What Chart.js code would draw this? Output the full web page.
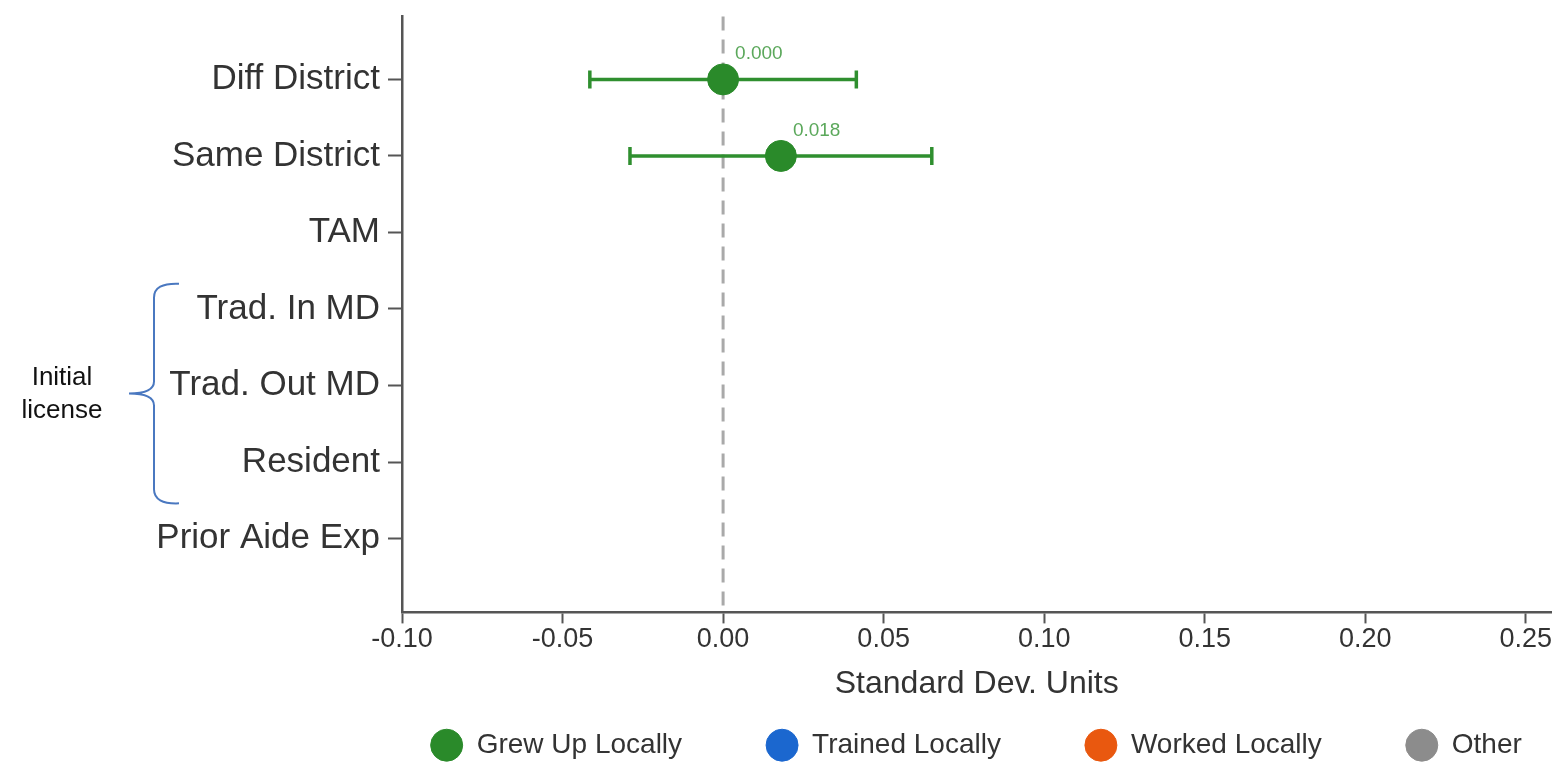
<!DOCTYPE html>
<html>
<head>
<meta charset="utf-8">
<script src="https://cdn.jsdelivr.net/npm/chart.js@4.4.1/dist/chart.umd.min.js"></script>
<style>
  html, body { margin: 0; padding: 0; background: #fff; }
  #wrap { width: 1568px; height: 768px; }
</style>
</head>
<body>
<div id="wrap"><canvas id="forest"></canvas></div>
<script>
// categories from top to bottom
const categories = ['Diff District', 'Same District', 'TAM', 'Trad. In MD', 'Trad. Out MD', 'Resident', 'Prior Aide Exp'];

// estimates and confidence bounds per series (null = not shown)
const grewUpEst  = [0.000, 0.018, null, null, null, null, null];
const grewUpLow  = [-0.0415, -0.029, null, null, null, null, null];
const grewUpHigh = [0.0415, 0.065, null, null, null, null, null];
const trainedEst = [null, null, null, null, null, null, null];
const workedEst  = [null, null, null, null, null, null, null];
const otherEst   = [null, null, null, null, null, null, null];

const xTicks = [-0.10, -0.05, 0.00, 0.05, 0.10, 0.15, 0.20, 0.25];

const FONT = "'Liberation Sans', Arial, sans-serif";
const AXIS = '#555555';
const TEXT = '#333333';

function toPoints(est) {
    const pts = [];
    est.forEach((v, i) => {
        if (v !== null) pts.push({ x: v, y: i + 1 });
    });
    return pts;
}

// dashed zero line + error bars under the points, value labels above
const errorBars = {
    id: 'errorBars',
    beforeDatasetsDraw(chart) {
        const { ctx, chartArea, scales } = chart;
        const x = scales.x, y = scales.y;
        ctx.save();
        ctx.strokeStyle = '#a9a9a9';
        ctx.lineWidth = 3;
        ctx.setLineDash([14, 9]);
        ctx.beginPath();
        ctx.moveTo(x.getPixelForValue(0), chartArea.top);
        ctx.lineTo(x.getPixelForValue(0), chartArea.bottom);
        ctx.stroke();
        ctx.setLineDash([]);

        ctx.strokeStyle = '#2f8f2f';
        ctx.lineWidth = 3.5;
        grewUpEst.forEach((v, i) => {
            if (v === null) return;
            const py = y.getPixelForValue(i + 1);
            const x0 = x.getPixelForValue(grewUpLow[i]);
            const x1 = x.getPixelForValue(grewUpHigh[i]);
            ctx.beginPath();
            ctx.moveTo(x0, py); ctx.lineTo(x1, py);
            ctx.moveTo(x0, py - 9); ctx.lineTo(x0, py + 9);
            ctx.moveTo(x1, py - 9); ctx.lineTo(x1, py + 9);
            ctx.stroke();
        });
        ctx.restore();
    },
    afterDatasetsDraw(chart) {
        const { ctx, scales } = chart;
        ctx.save();
        ctx.fillStyle = '#5ba85b';
        ctx.font = '19px ' + FONT;
        ctx.textAlign = 'left';
        ctx.textBaseline = 'alphabetic';
        grewUpEst.forEach((v, i) => {
            if (v === null) return;
            const px = scales.x.getPixelForValue(v);
            const py = scales.y.getPixelForValue(i + 1);
            ctx.fillText(v.toFixed(3), px + 12, py - 20);
        });
        ctx.restore();
    }
};

// "Initial license" bracket on the left
const groupBracket = {
    id: 'groupBracket',
    afterDraw(chart) {
        const { ctx, scales } = chart;
        const y = scales.y;
        const top = y.getPixelForValue(3.67);
        const bot = y.getPixelForValue(6.54);
        const mid = (top + bot) / 2;
        const bx = 154;
        ctx.save();
        ctx.strokeStyle = '#4a78c0';
        ctx.lineWidth = 2;
        ctx.beginPath();
        ctx.moveTo(179, top);
        ctx.quadraticCurveTo(bx, top - 1, bx, top + 14);
        ctx.lineTo(bx, mid - 12);
        ctx.quadraticCurveTo(bx, mid, bx - 25, mid);
        ctx.quadraticCurveTo(bx, mid, bx, mid + 12);
        ctx.lineTo(bx, bot - 14);
        ctx.quadraticCurveTo(bx, bot + 1, 179, bot);
        ctx.stroke();

        ctx.fillStyle = '#111111';
        ctx.font = '26px ' + FONT;
        ctx.textAlign = 'center';
        ctx.textBaseline = 'middle';
        ctx.fillText('Initial', 62, mid - 16);
        ctx.fillText('license', 62, mid + 17);
        ctx.restore();
    }
};

// legend labels padding also sets the gap between items, so move the row
// under the axis title and centre it on the plot area
const legendRow = {
    id: 'legendRow',
    afterLayout(chart) {
        const lg = chart.legend;
        const shift = (chart.chartArea.left + chart.chartArea.right) / 2 - chart.width / 2 + 5;
        lg.left += shift;
        lg.right += shift;
        lg.top = 748 - 84 - 16.8;
        lg.bottom = chart.height;
    }
};

const ctx = document.getElementById('forest').getContext('2d');
new Chart(ctx, {
    type: 'scatter',
    data: {
        datasets: [
            { label: 'Grew Up Locally', data: toPoints(grewUpEst), backgroundColor: '#2a8a2a', borderColor: '#2a8a2a', pointRadius: 15.5, pointHoverRadius: 15.5, pointStyle: 'circle' },
            { label: 'Trained Locally', data: toPoints(trainedEst), backgroundColor: '#1b67cf', borderColor: '#1b67cf', pointRadius: 15.5, pointStyle: 'circle' },
            { label: 'Worked Locally', data: toPoints(workedEst), backgroundColor: '#e9580f', borderColor: '#e9580f', pointRadius: 15.5, pointStyle: 'circle' },
            { label: 'Other', data: toPoints(otherEst), backgroundColor: '#8c8c8c', borderColor: '#8c8c8c', pointRadius: 15.5, pointStyle: 'circle' }
        ]
    },
    options: {
        responsive: true,
        maintainAspectRatio: false,
        animation: false,
        layout: { padding: { top: 0, right: 11, bottom: 0, left: 0 } },
        scales: {
            x: {
                type: 'linear',
                min: -0.10,
                max: 0.258,
                afterBuildTicks: s => { s.ticks = xTicks.map(v => ({ value: v })); },
                afterFit: s => { s.height = 115.6; s.paddingLeft = 0; s.paddingRight = 0; },
                border: { color: AXIS, width: 2.5 },
                grid: { drawOnChartArea: false, drawTicks: true, tickLength: 11, tickColor: AXIS, tickWidth: 2 },
                ticks: { color: TEXT, font: { family: FONT, size: 27 }, padding: 0, callback: v => v.toFixed(2) },
                title: { display: true, text: 'Standard Dev. Units', color: TEXT, font: { family: FONT, size: 32 }, padding: { top: 4, bottom: 25 } }
            },
            y: {
                type: 'linear',
                reverse: true,
                min: 0.178,
                max: 7.965,
                afterBuildTicks: s => { s.ticks = categories.map((c, i) => ({ value: i + 1 })); },
                afterFit: s => { s.width = 402; s.paddingTop = 0; s.paddingBottom = 0; },
                border: { color: AXIS, width: 2.5 },
                grid: { drawOnChartArea: false, drawTicks: true, tickLength: 14, tickColor: AXIS, tickWidth: 2 },
                ticks: { color: TEXT, font: { family: FONT, size: 35 }, padding: 8, callback: v => categories[v - 1] }
            }
        },
        plugins: {
            legend: {
                position: 'bottom',
                maxHeight: 40,
                labels: {
                    usePointStyle: true,
                    pointStyle: 'circle',
                    pointStyleWidth: 32,
                    boxHeight: 22.6,
                    padding: 84,
                    color: TEXT,
                    font: { family: FONT, size: 28 }
                }
            },
            tooltip: { enabled: false }
        }
    },
    plugins: [errorBars, groupBracket, legendRow]
});
</script>
</body>
</html>
